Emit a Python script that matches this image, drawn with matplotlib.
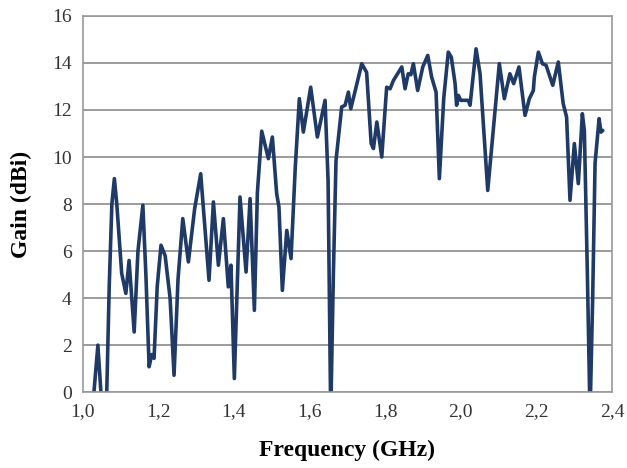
import matplotlib.pyplot as plt
from matplotlib.ticker import FuncFormatter

# Gain curve (frequency in GHz, gain in dBi)
freq = [1.020, 1.028, 1.040, 1.050, 1.056, 1.062, 1.070, 1.077, 1.0836, 1.090,
        1.103, 1.114, 1.1225, 1.136, 1.146, 1.159, 1.167, 1.1755, 1.1825, 1.1886,
        1.197, 1.207, 1.218, 1.231, 1.2415, 1.252, 1.2646, 1.2794, 1.296, 1.312,
        1.334, 1.3456, 1.3588, 1.372, 1.385, 1.392, 1.401, 1.416, 1.432, 1.4426,
        1.454, 1.462, 1.4735, 1.491, 1.5016, 1.513, 1.519, 1.528, 1.5397, 1.551,
        1.562, 1.573, 1.5836, 1.603, 1.6206, 1.641, 1.649, 1.656, 1.663, 1.670,
        1.685, 1.694, 1.7027, 1.709, 1.722, 1.738, 1.751, 1.763, 1.769, 1.778,
        1.791, 1.804, 1.813, 1.822, 1.844, 1.8526, 1.861, 1.868, 1.8746, 1.886,
        1.8995, 1.9127, 1.923, 1.9347, 1.9434, 1.955, 1.967, 1.975, 1.985, 1.989,
        1.9937, 2.000, 2.011, 2.020, 2.0246, 2.0405, 2.051, 2.0714, 2.088, 2.102,
        2.1153, 2.130, 2.140, 2.154, 2.170, 2.1815, 2.192, 2.1947, 2.2053, 2.216,
        2.2257, 2.2434, 2.258, 2.271, 2.280, 2.289, 2.3005, 2.311, 2.3217, 2.327,
        2.335, 2.342, 2.349, 2.3553, 2.366, 2.371, 2.3757]
gain = [-3.0, -0.3, 2.0, -0.5, -2.0, -1.0, 4.5, 8.0, 9.08, 8.0,
        5.05, 4.2, 5.6, 2.56, 6.0, 7.95, 5.0, 1.08, 1.6, 1.44,
        4.5, 6.25, 5.8, 4.0, 0.72, 4.8, 7.38, 5.54, 7.8, 9.29,
        4.76, 8.09, 5.4, 7.38, 4.48, 5.4, 0.58, 8.3, 5.11, 8.23,
        3.48, 8.5, 11.1, 9.93, 10.85, 8.44, 7.88, 4.33, 6.88, 5.68,
        9.5, 12.48, 11.06, 12.97, 10.85, 12.41, 9.0, -1.0, 5.0, 9.86,
        12.13, 12.2, 12.76, 12.05, 12.9, 13.97, 13.6, 10.57, 10.36, 11.49,
        10.0, 12.97, 12.9, 13.26, 13.83, 12.9, 13.54, 13.5, 13.97, 12.83,
        13.83, 14.32, 13.4, 12.76, 9.08, 12.5, 14.46, 14.25, 13.12, 12.2,
        12.62, 12.41, 12.41, 12.41, 12.2, 14.6, 13.54, 8.58, 11.5, 13.97,
        12.48, 13.54, 13.12, 13.83, 11.77, 12.48, 12.83, 13.4, 14.46, 13.97,
        13.9, 13.05, 14.04, 12.27, 11.7, 8.16, 10.57, 8.87, 11.84, 11.13,
        5.0, -1.0, 4.0, 9.73, 11.63, 11.06, 11.13]

x_ticks = [1.0, 1.2, 1.4, 1.6, 1.8, 2.0, 2.2, 2.4]
y_ticks = [0, 2, 4, 6, 8, 10, 12, 14, 16]

fig = plt.figure(figsize=(6.27, 4.68), dpi=100)
ax = fig.add_axes([0.132, 0.162, 0.844, 0.804])

ax.plot(freq, gain, color="#1f3a66", linewidth=2.6,
        solid_joinstyle="round", solid_capstyle="round")

ax.set_xlim(1.0, 2.4)
ax.set_ylim(0, 16)
ax.set_xticks(x_ticks)
ax.set_yticks(y_ticks)
ax.xaxis.set_major_formatter(FuncFormatter(lambda v, p: f"{v:.1f}".replace(".", ",")))

ax.yaxis.grid(True, color="#8a8a8a", linewidth=1.2)
ax.set_axisbelow(True)
for s in ax.spines.values():
    s.set_color("#9a9a9a")
    s.set_linewidth(1.2)
ax.tick_params(length=0, pad=8, labelsize=14, labelcolor="#333333")
for lab in ax.get_xticklabels() + ax.get_yticklabels():
    lab.set_family("Liberation Serif")

ax.set_xlabel("Frequency (GHz)", family="Liberation Serif", fontsize=17,
              fontweight="bold", labelpad=14)
ax.set_ylabel("Gain (dBi)", family="Liberation Serif", fontsize=17,
              fontweight="bold", labelpad=14)

fig.savefig("out.png", dpi=100)
